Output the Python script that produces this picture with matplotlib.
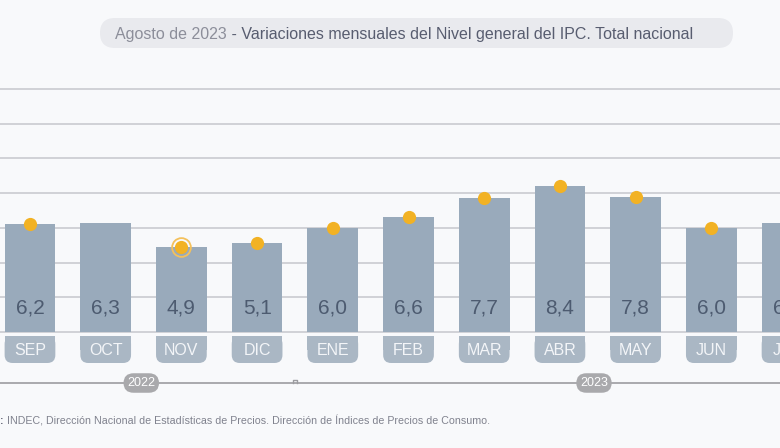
import matplotlib.pyplot as plt
from matplotlib.patches import FancyBboxPatch, Rectangle

plt.rcParams['font.family'] = ['Liberation Sans', 'DejaVu Sans']

meses = ['SEP', 'OCT', 'NOV', 'DIC', 'ENE', 'FEB', 'MAR', 'ABR', 'MAY', 'JUN', 'JUL']
variacion = [6.2, 6.3, 4.9, 5.1, 6.0, 6.6, 7.7, 8.4, 7.8, 6.0, 6.3]
con_punto = [True, False, True, True, True, True, True, True, True, True, False]
anios = ['2022', '2023']
anio_pos = [1.47, 7.45]
titulo_1 = 'Agosto de 2023'
titulo_2 = ' - Variaciones mensuales del Nivel general del IPC. Total nacional'
fuente = 'INDEC, Dirección Nacional de Estadísticas de Precios. Dirección de Índices de Precios de Consumo.'

W, H = 780, 448
bg = '#f8f9fb'
col_barra = '#99aabb'
col_caja = '#aab7c4'
col_punto = '#f2b224'
col_grid = '#cacbd0'

fig = plt.figure(figsize=(W / 100, H / 100), dpi=100, facecolor=bg)

# eje principal: y=0 en el pixel 332, 17.36 px por unidad
px_y = 17.36
ytop = 14.4
base_px = 332
ax = fig.add_axes([0, (H - base_px) / H, 1, ytop * px_y / H])
ax.set_facecolor(bg)
xmin, xmax = -0.396, 9.907
ax.set_xlim(xmin, xmax)
ax.set_ylim(0, ytop)
ax.axis('off')
px_x = W / (xmax - xmin)

for g in range(0, 15, 2):
    ax.axhline(g, color=col_grid, lw=1.2, zorder=1, clip_on=False)

x = list(range(len(meses)))
ax.bar(x, variacion, width=0.67, color=col_barra, zorder=2)

for i, v in enumerate(variacion):
    ax.text(i, 1.38, f'{v:.1f}'.replace('.', ','), ha='center', va='center',
            fontsize=15, color='#4d5b70', zorder=4, clip_on=False)
    if con_punto[i]:
        ax.plot(i, v, 'o', ms=9.5, color=col_punto, mec='none', zorder=5)

# anillo en NOV
ax.plot(2, variacion[2], 'o', ms=13.5, mfc='none', mec='#f4c15c', mew=1.3, zorder=5)

# cajas de meses (esquinas inferiores redondeadas)
y0, y1 = -(336 - base_px) / px_y, -(363 - base_px) / px_y
r = 8 / px_x
asp = px_x / px_y
for i, m in enumerate(meses):
    ax.add_patch(FancyBboxPatch((i - 0.335, y1), 0.67, y0 - y1,
                                boxstyle=f'round,pad=0,rounding_size={r}',
                                mutation_aspect=asp, fc=col_caja, ec='none',
                                clip_on=False, zorder=2))
    ax.add_patch(Rectangle((i - 0.335, (y0 + y1) / 2), 0.67, (y0 - y1) / 2,
                           fc=col_caja, ec='none', clip_on=False, zorder=2))
    ax.text(i, (y0 + y1) / 2 - 0.03, m, ha='center', va='center', fontsize=11.5,
            color='#f3f5f8', zorder=3, clip_on=False)

# linea de años
yl = -(383 - base_px) / px_y
ax.plot([xmin, xmax], [yl, yl], color='#9c9ca0', lw=1.2, clip_on=False, zorder=2)
ax.plot([3.47, 3.47, 3.53, 3.53], [yl, yl + 0.2, yl + 0.2, yl],
        color='#9c9ca0', lw=1.0, clip_on=False, zorder=2)
for a, p in zip(anios, anio_pos):
    ax.text(p, yl, a, ha='center', va='center', fontsize=9, color='white',
            zorder=3, clip_on=False,
            bbox=dict(boxstyle='round,pad=0.3,rounding_size=0.8', fc='#a9a9ac', ec='none'))

# capa en pixeles para titulo y fuente
ov = fig.add_axes([0, 0, 1, 1], facecolor='none')
ov.set_xlim(0, W)
ov.set_ylim(H, 0)
ov.axis('off')
ov.add_patch(FancyBboxPatch((100, 18), 633, 30, boxstyle='round,pad=0,rounding_size=15',
                            fc='#e9eaee', ec='none'))
t1 = ov.text(115, 34, titulo_1, ha='left', va='center', fontsize=11.5, color='#8c8e9a')
ov.annotate(titulo_2, xy=(1, 0), xycoords=t1, ha='left', va='bottom',
            fontsize=11.5, color='#585d70')

t2 = ov.text(0, 421, ':', ha='left', va='center', fontsize=7.7, color='#6f7180',
             fontweight='bold')
ov.annotate(' ' + fuente, xy=(1, 0), xycoords=t2, ha='left', va='bottom',
            fontsize=7.7, color='#80828e')

fig.savefig('out.png', dpi=100, facecolor=bg)
